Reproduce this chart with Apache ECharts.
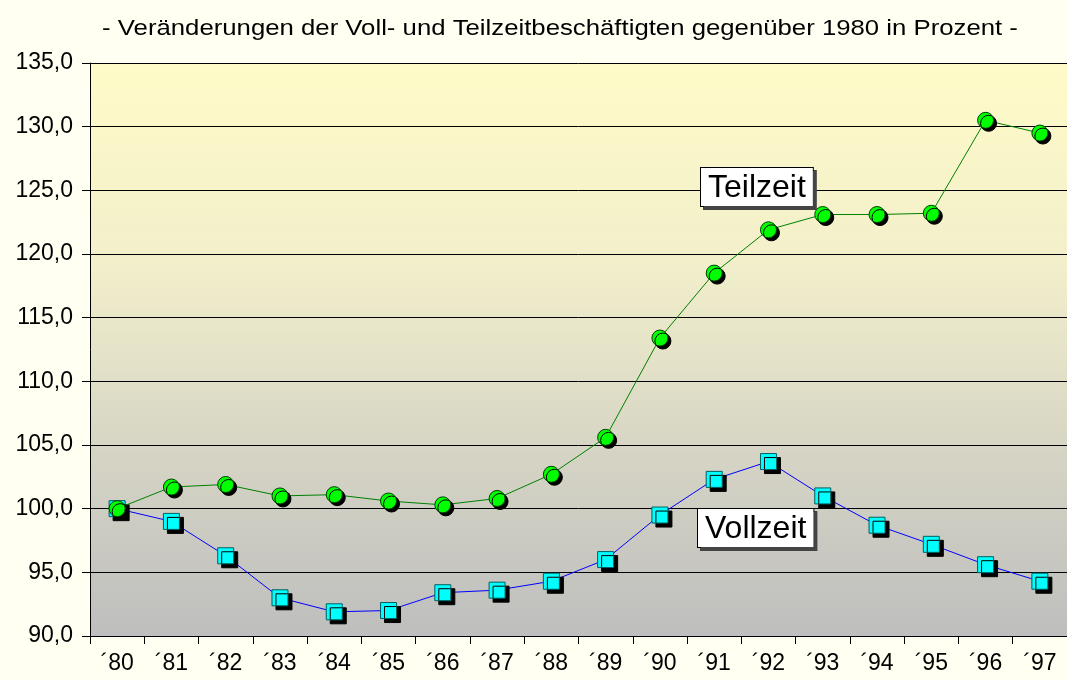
<!DOCTYPE html>
<html>
<head>
    <meta charset="utf-8">
    <script src="https://cdn.jsdelivr.net/npm/echarts@6/dist/echarts.min.js"></script>
    <style type="text/css">
        html, body { margin: 0; padding: 0; background: #fffff2; }
    </style>
</head>
<body>
    <div id="main" style="width: 1067px;height:680px;"></div>
    <script type="text/javascript">
        var years = ['´80', '´81', '´82', '´83', '´84', '´85', '´86', '´87', '´88', '´89',
                     '´90', '´91', '´92', '´93', '´94', '´95', '´96', '´97'];
        var teilzeit = [100.0, 101.7, 101.9, 101.0, 101.1, 100.6, 100.3, 100.8, 102.7, 105.6,
                        113.4, 118.5, 121.9, 123.1, 123.1, 123.2, 130.5, 129.5];
        var vollzeit = [100.0, 99.0, 96.3, 93.0, 91.9, 92.0, 93.4, 93.6, 94.3, 96.0,
                        99.5, 102.3, 103.7, 101.0, 98.7, 97.2, 95.6, 94.3];

        var FONT = '"Liberation Sans", Arial, sans-serif';
        var myChart = echarts.init(document.getElementById('main'));

        // Beschriftungskasten wie im Original
        function boxLabel(text, x, y) {
            return {
                type: 'text',
                left: x,
                top: y,
                z: 100,
                style: {
                    text: text,
                    font: '32px ' + FONT,
                    fill: '#000',
                    backgroundColor: '#fff',
                    borderColor: '#000',
                    borderWidth: 1,
                    padding: [4, 7, 2, 7],
                    shadowColor: '#444',
                    shadowOffsetX: 3,
                    shadowOffsetY: 3,
                    shadowBlur: 0
                }
            };
        }

        var option = {
            backgroundColor: '#fffff2',
            animation: false,
            grid: {
                left: 90,
                right: 0,
                top: 63,
                bottom: 44,
                show: true,
                borderWidth: 0,
                backgroundColor: {
                    type: 'linear', x: 0, y: 0, x2: 0, y2: 1,
                    colorStops: [
                        { offset: 0, color: '#fffbc8' },
                        { offset: 0.35, color: '#f2efcb' },
                        { offset: 0.7, color: '#d4d3c4' },
                        { offset: 1, color: '#bebebe' }
                    ]
                }
            },
            xAxis: {
                type: 'category',
                data: years,
                boundaryGap: true,
                axisLine: { lineStyle: { color: '#000', width: 1 } },
                axisTick: { show: true, length: 8, lineStyle: { color: '#000' } },
                axisLabel: {
                    color: '#000',
                    fontSize: 23,
                    fontFamily: FONT,
                    margin: 16
                }
            },
            yAxis: {
                type: 'value',
                min: 90,
                max: 135,
                interval: 5,
                axisLine: { show: true, lineStyle: { color: '#000', width: 1 } },
                axisTick: { show: true, length: 8, lineStyle: { color: '#000' } },
                splitLine: { show: true, lineStyle: { color: '#000', width: 1 } },
                axisLabel: {
                    color: '#000',
                    fontSize: 23,
                    fontFamily: FONT,
                    margin: 17,
                    formatter: function (v) { return v.toFixed(1).replace('.', ','); }
                }
            },
            series: [{
                name: 'Vollzeit',
                type: 'line',
                data: vollzeit,
                symbol: 'rect',
                symbolSize: 16,
                lineStyle: { color: '#0000ff', width: 1 },
                itemStyle: {
                    color: '#00ffff',
                    borderColor: '#005f5f',
                    borderWidth: 1,
                    shadowColor: '#000',
                    shadowOffsetX: 4,
                    shadowOffsetY: 4,
                    shadowBlur: 0
                },
                z: 2
            }, {
                name: 'Teilzeit',
                type: 'line',
                data: teilzeit,
                symbol: 'circle',
                symbolSize: 16,
                lineStyle: { color: '#008000', width: 1 },
                itemStyle: {
                    color: '#00ff00',
                    borderColor: '#004000',
                    borderWidth: 1,
                    shadowColor: '#000',
                    shadowOffsetX: 3,
                    shadowOffsetY: 3,
                    shadowBlur: 0
                },
                z: 3
            }],
            graphic: [
                {
                    // Titel, im Original etwas breit gezogen
                    type: 'text',
                    x: 560,
                    y: 29,
                    scaleX: 1.17,
                    style: {
                        text: '- Veränderungen der Voll- und Teilzeitbeschäftigten gegenüber 1980 in Prozent -',
                        font: '22px ' + FONT,
                        fill: '#000',
                        align: 'center',
                        verticalAlign: 'middle'
                    }
                },
                boxLabel('Teilzeit', 700, 167),
                boxLabel('Vollzeit', 697, 508)
            ]
        };

        myChart.setOption(option);
    </script>
</body>
</html>
